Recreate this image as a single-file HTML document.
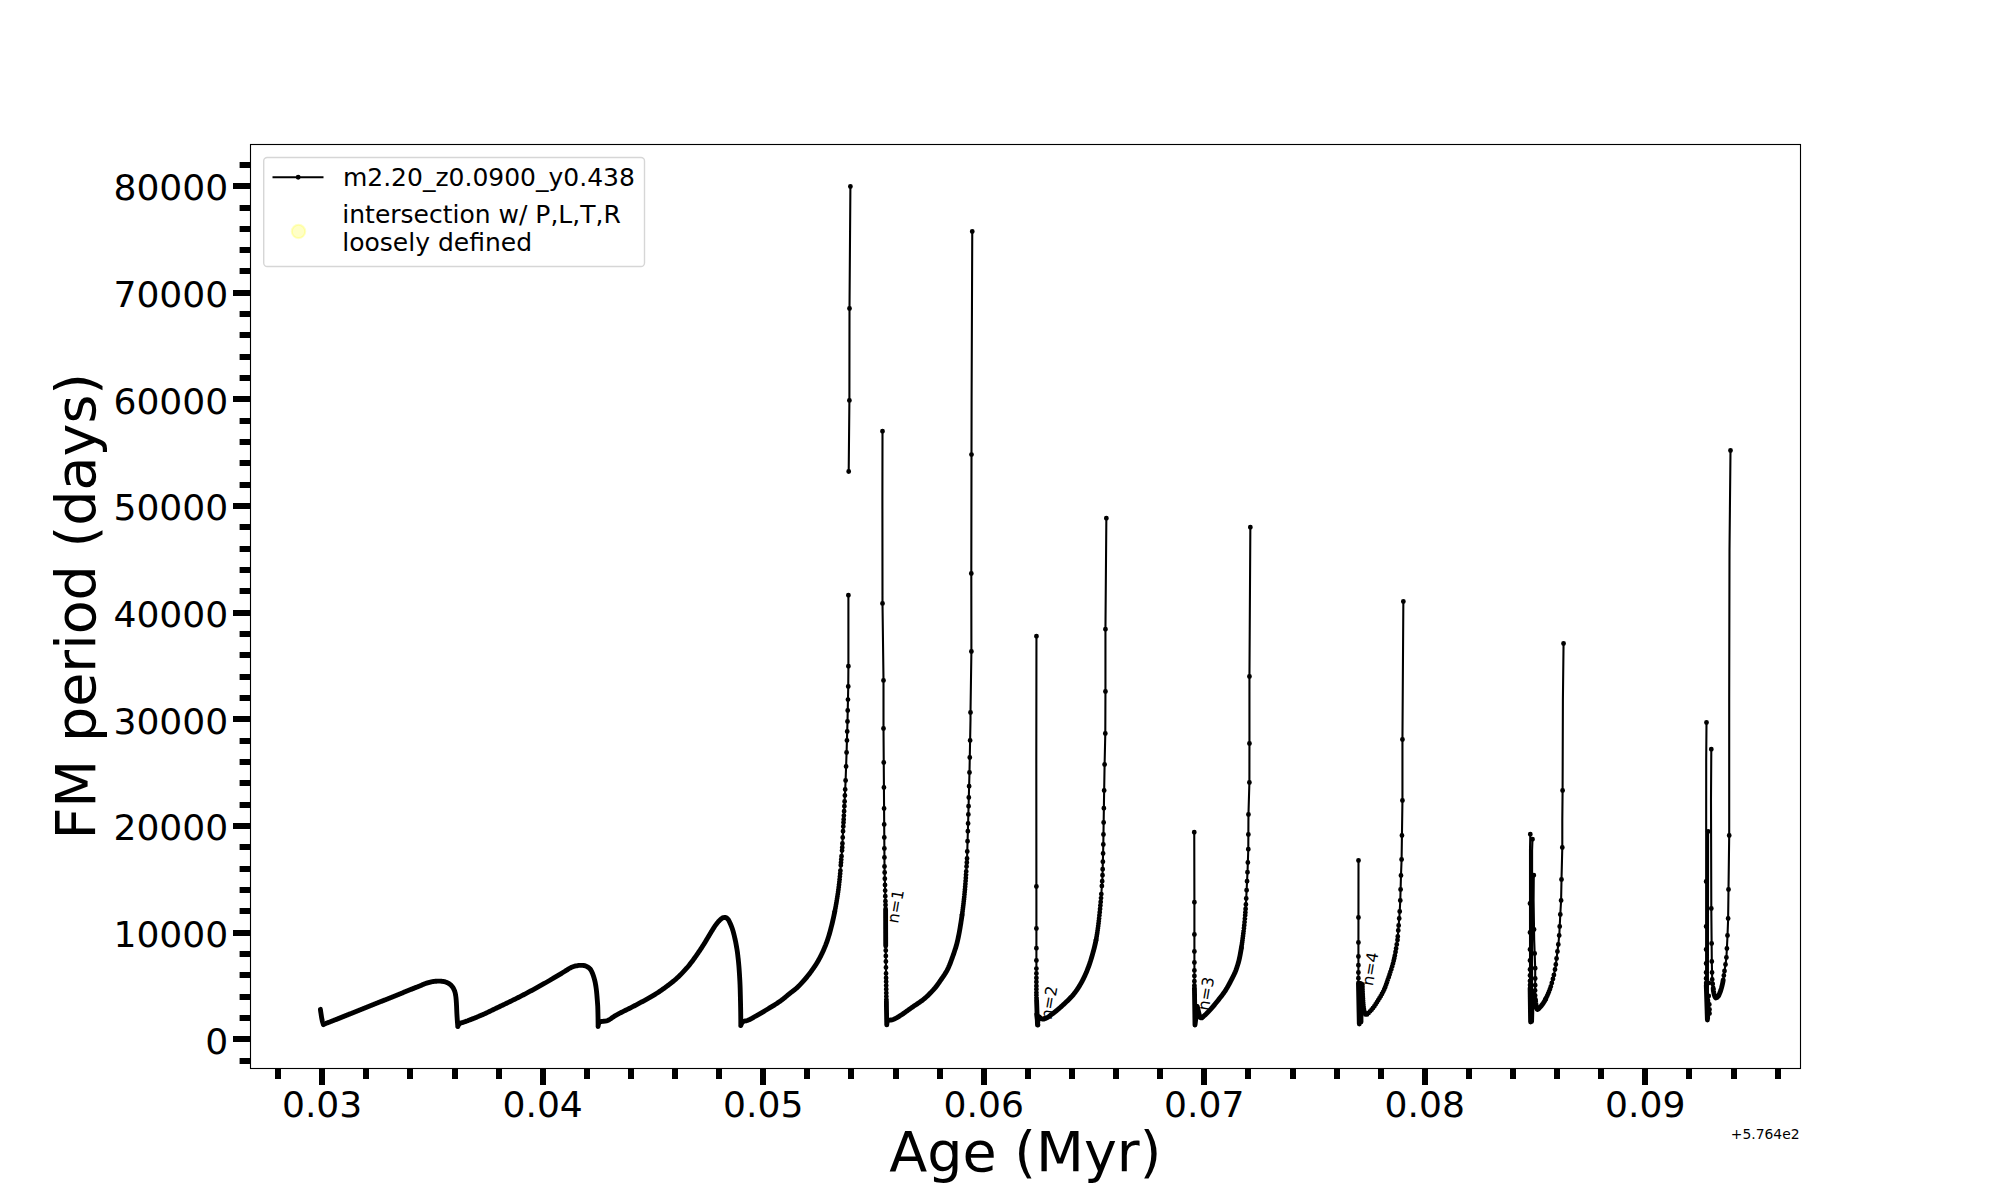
<!DOCTYPE html>
<html lang="en"><head><meta charset="utf-8"><title>FM period vs Age</title>
<style>html,body{margin:0;padding:0;background:#fff}svg{display:block}</style></head>
<body>
<svg width="2000" height="1200" viewBox="0 0 2000 1200">
<rect width="2000" height="1200" fill="#fff"/>
<text transform="translate(898.1 924) rotate(-80)" font-family="'DejaVu Sans','Liberation Sans',sans-serif" font-size="16" fill="#000">n=1</text>
<text transform="translate(1051.6 1020.2) rotate(-80)" font-family="'DejaVu Sans','Liberation Sans',sans-serif" font-size="16" fill="#000">n=2</text>
<text transform="translate(1208.4 1011.2) rotate(-80)" font-family="'DejaVu Sans','Liberation Sans',sans-serif" font-size="16" fill="#000">n=3</text>
<text transform="translate(1372.7 986.4) rotate(-80)" font-family="'DejaVu Sans','Liberation Sans',sans-serif" font-size="16" fill="#000">n=4</text>
<g fill="none" stroke="#000" stroke-linejoin="round">
<path stroke-width="2.08" stroke-linecap="butt" d="M320.4 1009.3 L320.53 1010.33 L320.67 1011.36 L320.82 1012.4 L320.98 1013.43 L321.13 1014.45 L321.3 1015.48 L321.46 1016.51 L321.63 1017.54 L321.81 1018.57 L322.01 1019.59 L322.22 1020.6 L322.47 1021.61 L322.76 1022.61 L323.07 1023.61 L323.4 1024.6 L323.4 1024.6 L324.3 1024.16 L325.21 1023.74 L326.13 1023.35 L327.06 1022.98 L328 1022.63 L328.95 1022.29 L329.89 1021.94 L330.82 1021.58 L331.75 1021.22 L332.69 1020.85 L333.62 1020.49 L334.55 1020.11 L335.48 1019.74 L336.41 1019.37 L337.34 1018.99 L338.27 1018.62 L339.19 1018.24 L340.12 1017.87 L341.05 1017.49 L341.98 1017.12 L342.91 1016.74 L343.84 1016.37 L344.77 1015.99 L345.7 1015.62 L346.63 1015.25 L347.56 1014.88 L348.49 1014.5 L349.42 1014.13 L350.35 1013.76 L351.28 1013.39 L352.21 1013.02 L353.14 1012.64 L354.07 1012.27 L355 1011.9 L355.93 1011.53 L356.86 1011.16 L357.79 1010.78 L358.72 1010.41 L359.65 1010.04 L360.58 1009.67 L361.51 1009.3 L362.44 1008.92 L363.37 1008.55 L364.3 1008.18 L365.23 1007.81 L366.16 1007.44 L367.09 1007.06 L368.02 1006.69 L368.95 1006.32 L369.88 1005.95 L370.81 1005.58 L371.74 1005.2 L372.67 1004.83 L373.6 1004.46 L374.53 1004.09 L375.46 1003.72 L376.39 1003.35 L377.33 1002.98 L378.26 1002.6 L379.19 1002.23 L380.12 1001.86 L381.05 1001.49 L381.98 1001.12 L382.91 1000.75 L383.84 1000.38 L384.77 1000.01 L385.7 999.63 L386.63 999.26 L387.56 998.89 L388.49 998.52 L389.42 998.14 L390.35 997.77 L391.28 997.4 L392.21 997.02 L393.14 996.65 L394.07 996.28 L395 995.9 L395.93 995.53 L396.85 995.15 L397.78 994.77 L398.71 994.4 L399.64 994.02 L400.56 993.64 L401.49 993.26 L402.42 992.88 L403.35 992.5 L404.27 992.12 L405.2 991.75 L406.13 991.37 L407.06 990.99 L407.99 990.61 L408.92 990.24 L409.84 989.86 L410.77 989.49 L411.7 989.12 L412.63 988.74 L413.56 988.37 L414.49 988 L415.42 987.63 L416.35 987.26 L417.28 986.88 L418.21 986.51 L419.15 986.14 L420.08 985.77 L421 985.39 L421.93 984.99 L422.85 984.59 L423.78 984.2 L424.71 983.83 L425.64 983.48 L426.59 983.17 L427.54 982.88 L428.51 982.6 L429.48 982.32 L430.45 982.07 L431.43 981.84 L432.42 981.65 L433.4 981.51 L434.39 981.4 L435.39 981.29 L436.39 981.2 L437.4 981.14 L438.4 981.1 L439.4 981.11 L440.41 981.16 L441.42 981.25 L442.42 981.37 L443.4 981.51 L444.37 981.67 L445.34 981.92 L446.3 982.27 L447.25 982.68 L448.15 983.15 L449.01 983.65 L449.81 984.18 L450.59 984.82 L451.34 985.54 L452.02 986.31 L452.62 987.11 L453.14 987.92 L453.63 988.8 L454.08 989.71 L454.48 990.66 L454.82 991.62 L455.09 992.57 L455.31 993.54 L455.51 994.52 L455.68 995.51 L455.82 996.51 L455.95 997.51 L456.05 998.5 L456.14 999.5 L456.22 1000.5 L456.29 1001.5 L456.36 1002.5 L456.42 1003.5 L456.47 1004.5 L456.53 1005.5 L456.58 1006.5 L456.62 1007.5 L456.66 1008.5 L456.7 1009.51 L456.74 1010.51 L456.78 1011.51 L456.83 1012.51 L456.87 1013.51 L456.93 1014.51 L456.99 1015.51 L457.05 1016.51 L457.11 1017.51 L457.18 1018.51 L457.24 1019.51 L457.32 1020.51 L457.39 1021.51 L457.47 1022.51 L457.55 1023.5 L457.63 1024.5 L457.71 1025.5 L457.8 1026.5 L457.8 1026.5 L458.24 1025.46 L458.8 1024.56 L459.44 1023.83 L460.16 1023.31 L461.04 1022.96 L462.05 1022.68 L463.05 1022.38 L463.99 1022.05 L464.93 1021.71 L465.87 1021.37 L466.82 1021.02 L467.76 1020.68 L468.69 1020.32 L469.63 1019.97 L470.57 1019.61 L471.5 1019.25 L472.44 1018.89 L473.37 1018.52 L474.3 1018.15 L475.23 1017.77 L476.16 1017.4 L477.09 1017.02 L478.01 1016.63 L478.94 1016.25 L479.86 1015.86 L480.78 1015.47 L481.7 1015.07 L482.61 1014.67 L483.53 1014.26 L484.44 1013.84 L485.35 1013.43 L486.26 1013.01 L487.17 1012.58 L488.07 1012.16 L488.98 1011.73 L489.88 1011.3 L490.79 1010.86 L491.69 1010.43 L492.59 1009.99 L493.49 1009.55 L494.4 1009.11 L495.3 1008.68 L496.2 1008.24 L497.1 1007.8 L498 1007.36 L498.91 1006.93 L499.81 1006.49 L500.71 1006.06 L501.62 1005.62 L502.52 1005.19 L503.42 1004.76 L504.32 1004.32 L505.23 1003.89 L506.13 1003.45 L507.03 1003.02 L507.94 1002.58 L508.84 1002.14 L509.74 1001.71 L510.64 1001.27 L511.54 1000.83 L512.44 1000.39 L513.34 999.94 L514.24 999.5 L515.13 999.05 L516.03 998.61 L516.92 998.16 L517.82 997.71 L518.71 997.26 L519.61 996.8 L520.5 996.35 L521.39 995.89 L522.28 995.43 L523.17 994.97 L524.05 994.5 L524.94 994.04 L525.83 993.57 L526.72 993.11 L527.6 992.64 L528.49 992.17 L529.37 991.69 L530.25 991.22 L531.14 990.75 L532.02 990.27 L532.9 989.79 L533.78 989.32 L534.66 988.84 L535.54 988.36 L536.42 987.87 L537.3 987.39 L538.17 986.91 L539.05 986.43 L539.93 985.94 L540.8 985.45 L541.68 984.96 L542.55 984.47 L543.42 983.98 L544.29 983.49 L545.16 982.99 L546.03 982.49 L546.9 981.99 L547.77 981.49 L548.64 980.99 L549.5 980.49 L550.37 979.98 L551.24 979.48 L552.1 978.98 L552.97 978.47 L553.83 977.97 L554.7 977.46 L555.56 976.95 L556.42 976.44 L557.28 975.93 L558.14 975.42 L559 974.9 L559.86 974.38 L560.72 973.86 L561.57 973.34 L562.42 972.81 L563.27 972.28 L564.12 971.75 L564.97 971.22 L565.83 970.7 L566.69 970.18 L567.54 969.63 L568.39 969.08 L569.24 968.53 L570.1 968.02 L570.98 967.55 L571.88 967.15 L572.81 966.8 L573.76 966.48 L574.73 966.2 L575.71 965.96 L576.69 965.76 L577.67 965.56 L578.67 965.4 L579.66 965.31 L580.66 965.31 L581.67 965.34 L582.68 965.39 L583.67 965.47 L584.65 965.61 L585.61 965.94 L586.53 966.37 L587.42 966.82 L588.3 967.35 L589.14 967.96 L589.85 968.64 L590.44 969.36 L590.97 970.18 L591.46 971.06 L591.9 971.99 L592.32 972.94 L592.7 973.91 L593.05 974.85 L593.38 975.79 L593.69 976.74 L593.99 977.69 L594.27 978.66 L594.53 979.63 L594.78 980.61 L595.01 981.59 L595.21 982.57 L595.41 983.55 L595.58 984.53 L595.75 985.52 L595.91 986.51 L596.06 987.51 L596.2 988.5 L596.32 989.49 L596.44 990.49 L596.55 991.48 L596.65 992.48 L596.75 993.48 L596.84 994.48 L596.92 995.47 L597.01 996.47 L597.08 997.47 L597.16 998.47 L597.24 999.47 L597.32 1000.47 L597.4 1001.47 L597.48 1002.47 L597.55 1003.47 L597.62 1004.47 L597.69 1005.47 L597.74 1006.47 L597.78 1007.47 L597.81 1008.47 L597.84 1009.47 L597.87 1010.47 L597.89 1011.47 L597.92 1012.47 L597.94 1013.47 L597.96 1014.47 L597.98 1015.48 L598 1016.48 L598.02 1017.48 L598.04 1018.48 L598.05 1019.48 L598.06 1020.48 L598.07 1021.49 L598.08 1022.49 L598.09 1023.49 L598.1 1024.49 L598.1 1025.5 L598.1 1026.5 L598.1 1026.5 L598.27 1025.23 L598.57 1024.05 L598.97 1023.04 L599.44 1022.27 L599.96 1021.82 L600.63 1021.61 L601.54 1021.48 L602.6 1021.38 L603.74 1021.29 L604.86 1021.18 L605.89 1021.02 L606.81 1020.78 L607.71 1020.45 L608.59 1020.04 L609.46 1019.55 L610.32 1019.02 L611.17 1018.45 L612.01 1017.85 L612.85 1017.25 L613.7 1016.65 L614.55 1016.08 L615.41 1015.54 L616.29 1015.04 L617.17 1014.57 L618.05 1014.1 L618.93 1013.63 L619.82 1013.17 L620.71 1012.72 L621.6 1012.26 L622.5 1011.81 L623.39 1011.36 L624.29 1010.92 L625.18 1010.47 L626.08 1010.03 L626.98 1009.58 L627.88 1009.14 L628.77 1008.7 L629.67 1008.25 L630.56 1007.8 L631.46 1007.35 L632.35 1006.9 L633.24 1006.44 L634.13 1005.98 L635.02 1005.52 L635.9 1005.05 L636.78 1004.58 L637.67 1004.11 L638.55 1003.64 L639.43 1003.17 L640.32 1002.7 L641.2 1002.23 L642.09 1001.75 L642.97 1001.28 L643.85 1000.8 L644.73 1000.33 L645.61 999.85 L646.49 999.36 L647.37 998.88 L648.24 998.39 L649.11 997.9 L649.98 997.4 L650.85 996.9 L651.71 996.4 L652.57 995.89 L653.43 995.38 L654.28 994.86 L655.13 994.34 L655.98 993.81 L656.82 993.28 L657.66 992.74 L658.49 992.19 L659.33 991.63 L660.15 991.07 L660.98 990.5 L661.8 989.92 L662.62 989.35 L663.43 988.76 L664.25 988.18 L665.05 987.59 L665.86 986.99 L666.67 986.4 L667.47 985.8 L668.27 985.2 L669.07 984.6 L669.87 983.99 L670.66 983.38 L671.46 982.77 L672.24 982.15 L673.03 981.52 L673.8 980.89 L674.57 980.25 L675.33 979.6 L676.07 978.94 L676.81 978.27 L677.54 977.59 L678.27 976.91 L678.99 976.21 L679.71 975.52 L680.42 974.81 L681.13 974.1 L681.84 973.38 L682.53 972.66 L683.23 971.93 L683.91 971.2 L684.59 970.46 L685.27 969.72 L685.94 968.98 L686.6 968.23 L687.25 967.47 L687.9 966.72 L688.54 965.95 L689.17 965.18 L689.8 964.41 L690.42 963.62 L691.03 962.83 L691.63 962.03 L692.23 961.22 L692.83 960.42 L693.42 959.61 L694.01 958.79 L694.59 957.98 L695.17 957.16 L695.75 956.35 L696.33 955.53 L696.91 954.71 L697.48 953.89 L698.04 953.07 L698.61 952.24 L699.17 951.41 L699.73 950.58 L700.28 949.75 L700.83 948.92 L701.38 948.08 L701.93 947.24 L702.47 946.4 L703.01 945.56 L703.55 944.71 L704.08 943.87 L704.61 943.02 L705.13 942.16 L705.65 941.31 L706.16 940.45 L706.67 939.59 L707.18 938.72 L707.68 937.86 L708.19 937 L708.7 936.14 L709.22 935.28 L709.74 934.43 L710.26 933.57 L710.78 932.72 L711.3 931.86 L711.82 931 L712.34 930.14 L712.86 929.28 L713.39 928.43 L713.93 927.58 L714.48 926.75 L715.04 925.93 L715.62 925.12 L716.21 924.32 L716.82 923.52 L717.45 922.73 L718.1 921.96 L718.77 921.21 L719.47 920.5 L720.19 919.83 L720.95 919.12 L721.75 918.45 L722.6 917.92 L723.5 917.63 L724.51 917.45 L725.48 917.43 L726.42 917.83 L727.26 918.49 L727.93 919.15 L728.49 919.94 L728.98 920.83 L729.44 921.78 L729.87 922.72 L730.29 923.62 L730.7 924.53 L731.09 925.46 L731.46 926.39 L731.82 927.33 L732.16 928.27 L732.48 929.22 L732.79 930.17 L733.08 931.12 L733.35 932.08 L733.61 933.05 L733.86 934.02 L734.1 934.99 L734.33 935.97 L734.56 936.94 L734.78 937.92 L735 938.9 L735.21 939.87 L735.42 940.85 L735.62 941.83 L735.81 942.82 L736 943.8 L736.18 944.78 L736.36 945.77 L736.53 946.75 L736.7 947.74 L736.86 948.73 L737.02 949.71 L737.18 950.7 L737.33 951.69 L737.47 952.68 L737.6 953.68 L737.72 954.67 L737.84 955.66 L737.95 956.65 L738.06 957.65 L738.17 958.64 L738.28 959.64 L738.38 960.63 L738.48 961.63 L738.58 962.63 L738.67 963.62 L738.76 964.62 L738.85 965.62 L738.93 966.61 L739.01 967.61 L739.09 968.61 L739.16 969.61 L739.23 970.6 L739.3 971.6 L739.36 972.6 L739.43 973.6 L739.49 974.6 L739.55 975.6 L739.61 976.59 L739.67 977.59 L739.73 978.59 L739.78 979.59 L739.84 980.59 L739.89 981.59 L739.94 982.59 L739.98 983.59 L740.03 984.59 L740.07 985.59 L740.1 986.59 L740.14 987.59 L740.17 988.59 L740.2 989.59 L740.23 990.59 L740.25 991.59 L740.28 992.59 L740.3 993.59 L740.33 994.59 L740.35 995.59 L740.38 996.59 L740.4 997.59 L740.43 998.59 L740.45 999.59 L740.47 1000.59 L740.5 1001.59 L740.52 1002.59 L740.54 1003.59 L740.56 1004.59 L740.58 1005.59 L740.6 1006.59 L740.62 1007.59 L740.64 1008.59 L740.65 1009.59 L740.67 1010.59 L740.69 1011.59 L740.7 1012.59 L740.71 1013.59 L740.73 1014.59 L740.74 1015.59 L740.75 1016.59 L740.76 1017.59 L740.77 1018.59 L740.78 1019.59 L740.78 1020.6 L740.79 1021.6 L740.79 1022.6 L740.8 1023.6 L740.8 1024.6 L740.8 1025.6 L740.8 1025.6 L741.14 1024.46 L741.59 1023.44 L742.14 1022.58 L742.76 1021.91 L743.45 1021.48 L744.34 1021.2 L745.37 1020.99 L746.42 1020.77 L747.38 1020.47 L748.3 1020.11 L749.2 1019.7 L750.1 1019.26 L750.98 1018.79 L751.86 1018.3 L752.74 1017.79 L753.61 1017.28 L754.48 1016.77 L755.35 1016.26 L756.23 1015.78 L757.1 1015.29 L757.97 1014.8 L758.84 1014.31 L759.71 1013.81 L760.58 1013.31 L761.44 1012.81 L762.31 1012.31 L763.17 1011.8 L764.03 1011.29 L764.89 1010.78 L765.75 1010.26 L766.61 1009.74 L767.46 1009.23 L768.32 1008.71 L769.17 1008.19 L770.03 1007.67 L770.89 1007.15 L771.74 1006.63 L772.6 1006.11 L773.45 1005.59 L774.31 1005.06 L775.16 1004.53 L776 1003.99 L776.84 1003.45 L777.67 1002.9 L778.5 1002.34 L779.32 1001.78 L780.14 1001.2 L780.94 1000.61 L781.74 1000.02 L782.53 999.4 L783.31 998.78 L784.09 998.16 L784.87 997.52 L785.64 996.89 L786.41 996.25 L787.19 995.6 L787.96 994.97 L788.73 994.33 L789.51 993.7 L790.29 993.07 L791.08 992.45 L791.88 991.84 L792.68 991.23 L793.47 990.62 L794.27 990.01 L795.05 989.39 L795.82 988.75 L796.57 988.1 L797.29 987.43 L798.01 986.74 L798.73 986.05 L799.43 985.34 L800.13 984.63 L800.83 983.91 L801.52 983.18 L802.2 982.44 L802.88 981.7 L803.55 980.95 L804.21 980.19 L804.87 979.42 L805.52 978.66 L806.16 977.88 L806.8 977.1 L807.43 976.32 L808.05 975.54 L808.66 974.75 L809.27 973.96 L809.87 973.17 L810.47 972.37 L811.06 971.57 L811.65 970.77 L812.24 969.95 L812.82 969.13 L813.39 968.31 L813.96 967.48 L814.53 966.65 L815.08 965.81 L815.63 964.97 L816.17 964.12 L816.71 963.27 L817.23 962.41 L817.75 961.55 L818.25 960.69 L818.75 959.82 L819.23 958.95 L819.7 958.07 L820.16 957.19 L820.61 956.31 L821.06 955.42 L821.5 954.53 L821.93 953.63 L822.36 952.72 L822.78 951.81 L823.2 950.9 L823.61 949.98 L824.01 949.06 L824.41 948.13 L824.79 947.2 L825.17 946.27 L825.55 945.34 L825.91 944.4 L826.26 943.46 L826.61 942.53 L826.95 941.59 L827.28 940.65 L827.6 939.7 L827.91 938.76 L828.22 937.81 L828.52 936.86 L828.81 935.91 L829.1 934.95 L829.39 933.99 L829.66 933.03 L829.93 932.06 L830.2 931.09 L830.46 930.13 L830.72 929.16 L830.97 928.19 L831.22 927.21 L831.47 926.24 L831.71 925.27 L831.95 924.3 L832.18 923.32 L832.42 922.35 L832.65 921.38 L832.87 920.41 L833.1 919.43 L833.32 918.46 L833.53 917.48 L833.75 916.5 L833.96 915.52 L834.16 914.54 L834.37 913.56 L834.57 912.58 L834.77 911.6 L834.96 910.62 L835.15 909.64 L835.34 908.65 L835.52 907.67 L835.7 906.69 L835.88 905.7 L836.05 904.72 L836.22 903.73 L836.39 902.75 L836.56 901.76 L836.72 900.77 L836.89 899.79 L837.05 898.8 L837.21 897.81 L837.37 896.82 L837.52 895.83 L837.67 894.84 L837.82 893.85 L837.97 892.86 L838.11 891.87 L838.25 890.88 L838.39 889.89 L838.52 888.9 L838.65 887.91 L838.77 886.92 L838.89 885.92 L839.01 884.93 L839.12 883.94 L839.23 882.94 L839.34 881.95 L839.45 880.96 L839.55 879.96 L839.66 878.97 L839.76 877.97 L839.85 876.98 L839.95 875.98 L840.04 874.98 L840.13 873.99 L840.22 872.99 L840.3 871.99 L840.38 871 L840.46 870 L840.53 869 L840.6 868 L841.2 860 L842.1 850 L843.1 830 L844.4 806 L845.6 780.5 L846.6 752 L847.5 721 L848.25 686.5 L848.4 666 L848.4 595.25 M848.7 471.5 L849.4 400.4 L849.5 308.5 L850.4 186.5 M882.5 431.25 L882.4 500 L882.5 603.4 L883.5 680.4 L883.5 728.5 L884.5 866.5 L885.6 907.5 L885.7 946 L886.5 1010 L886.75 1024.9 L887.2 1021.3 L888.05 1020.72 L888.95 1020.32 L889.91 1020.12 L890.91 1019.98 L891.91 1019.82 L892.86 1019.56 L893.8 1019.21 L894.73 1018.8 L895.64 1018.37 L896.53 1017.93 L897.4 1017.44 L898.26 1016.92 L899.1 1016.38 L899.95 1015.83 L900.78 1015.29 L901.62 1014.74 L902.45 1014.18 L903.27 1013.62 L904.09 1013.05 L904.91 1012.47 L905.73 1011.89 L906.54 1011.31 L907.35 1010.72 L908.17 1010.14 L908.98 1009.55 L909.79 1008.97 L910.61 1008.38 L911.42 1007.81 L912.24 1007.23 L913.07 1006.66 L913.9 1006.1 L914.73 1005.54 L915.57 1004.98 L916.4 1004.43 L917.24 1003.87 L918.07 1003.31 L918.9 1002.75 L919.73 1002.18 L920.55 1001.61 L921.36 1001.03 L922.16 1000.44 L922.96 999.83 L923.74 999.21 L924.5 998.58 L925.26 997.93 L926.01 997.27 L926.74 996.59 L927.47 995.9 L928.19 995.2 L928.91 994.5 L929.62 993.79 L930.32 993.08 L931.02 992.36 L931.71 991.64 L932.4 990.91 L933.09 990.18 L933.76 989.43 L934.42 988.68 L935.08 987.92 L935.71 987.16 L936.33 986.38 L936.94 985.58 L937.53 984.78 L938.11 983.96 L938.68 983.14 L939.25 982.31 L939.81 981.48 L940.37 980.65 L940.94 979.83 L941.52 979 L942.09 978.18 L942.66 977.35 L943.23 976.52 L943.8 975.68 L944.36 974.85 L944.9 974.01 L945.44 973.16 L945.95 972.31 L946.46 971.44 L946.94 970.58 L947.4 969.7 L947.84 968.81 L948.26 967.92 L948.68 967.01 L949.08 966.09 L949.47 965.17 L949.84 964.24 L950.22 963.3 L950.58 962.36 L950.93 961.42 L951.28 960.48 L951.62 959.54 L951.96 958.6 L952.3 957.66 L952.64 956.72 L952.98 955.77 L953.31 954.83 L953.64 953.88 L953.97 952.93 L954.29 951.98 L954.61 951.03 L954.93 950.08 L955.24 949.12 L955.54 948.17 L955.83 947.21 L956.12 946.25 L956.4 945.29 L956.66 944.32 L956.92 943.36 L957.17 942.39 L957.4 941.42 L957.62 940.45 L957.84 939.48 L958.06 938.51 L958.26 937.53 L958.47 936.56 L958.67 935.58 L958.86 934.6 L959.05 933.62 L959.24 932.63 L959.42 931.65 L959.6 930.66 L959.78 929.67 L959.95 928.69 L960.12 927.7 L960.28 926.71 L960.44 925.72 L960.6 924.73 L960.76 923.74 L960.91 922.74 L961.06 921.75 L961.21 920.76 L961.36 919.77 L961.5 918.78 L961.65 917.79 L961.79 916.8 L961.93 915.81 L962.06 914.82 L962.2 913.83 L962.33 912.84 L962.47 911.85 L962.6 910.85 L962.73 909.86 L962.86 908.87 L962.98 907.88 L963.11 906.88 L963.23 905.89 L963.35 904.89 L963.47 903.9 L963.58 902.91 L963.7 901.91 L963.81 900.92 L963.92 899.92 L964.03 898.93 L964.13 897.93 L964.23 896.93 L964.34 895.94 L964.43 894.94 L964.53 893.95 L964.62 892.95 L964.71 891.96 L964.8 890.96 L964.89 889.96 L964.98 888.97 L965.06 887.97 L965.14 886.97 L965.22 885.98 L965.31 884.98 L965.38 883.98 L965.46 882.98 L965.54 881.99 L965.61 880.99 L965.68 879.99 L965.75 878.99 L965.82 877.99 L965.89 877 L965.95 876 L966.02 875 L966.08 874 L966.14 873 L966.19 872 L966.25 871 L966.3 870 L967 860 L968.2 820 L969.5 772 L970.5 720 L970.5 712.5 L971.4 651.5 L971.3 573.5 L971.5 454.6 L971.6 400 L972.25 231.5 M1036.45 636.2 L1036.3 760 L1036.4 900 L1036.4 995 L1037 1012 L1037.5 1025 L1038.4 1016.2 L1039.13 1016.91 L1039.91 1017.54 L1040.74 1018.14 L1041.63 1018.74 L1042.54 1019.14 L1043.47 1019.16 L1044.44 1018.88 L1045.41 1018.47 L1046.32 1018.05 L1047.2 1017.6 L1048.05 1017.08 L1048.89 1016.52 L1049.72 1015.92 L1050.53 1015.31 L1051.34 1014.69 L1052.15 1014.09 L1052.95 1013.49 L1053.75 1012.88 L1054.55 1012.26 L1055.33 1011.64 L1056.12 1011.01 L1056.9 1010.37 L1057.67 1009.72 L1058.44 1009.07 L1059.21 1008.41 L1059.96 1007.75 L1060.72 1007.08 L1061.46 1006.41 L1062.21 1005.73 L1062.94 1005.05 L1063.68 1004.37 L1064.41 1003.68 L1065.15 1002.99 L1065.89 1002.3 L1066.62 1001.6 L1067.35 1000.9 L1068.08 1000.19 L1068.8 999.48 L1069.52 998.76 L1070.22 998.03 L1070.92 997.3 L1071.6 996.56 L1072.28 995.81 L1072.93 995.06 L1073.58 994.3 L1074.2 993.53 L1074.81 992.75 L1075.41 991.96 L1075.99 991.15 L1076.57 990.34 L1077.14 989.51 L1077.7 988.68 L1078.25 987.83 L1078.79 986.98 L1079.33 986.12 L1079.85 985.25 L1080.37 984.37 L1080.87 983.49 L1081.37 982.61 L1081.86 981.72 L1082.33 980.83 L1082.8 979.93 L1083.25 979.04 L1083.69 978.14 L1084.12 977.24 L1084.55 976.34 L1084.97 975.43 L1085.38 974.52 L1085.78 973.6 L1086.18 972.67 L1086.58 971.75 L1086.96 970.81 L1087.34 969.88 L1087.71 968.94 L1088.08 967.99 L1088.44 967.05 L1088.79 966.1 L1089.13 965.15 L1089.47 964.2 L1089.79 963.25 L1090.11 962.29 L1090.43 961.34 L1090.73 960.38 L1091.02 959.42 L1091.31 958.47 L1091.6 957.51 L1091.88 956.55 L1092.17 955.58 L1092.44 954.61 L1092.72 953.65 L1092.99 952.68 L1093.25 951.7 L1093.52 950.73 L1093.77 949.75 L1094.03 948.78 L1094.27 947.8 L1094.52 946.82 L1094.75 945.84 L1094.98 944.85 L1095.21 943.87 L1095.43 942.89 L1095.64 941.9 L1095.84 940.92 L1096.04 939.93 L1096.23 938.94 L1096.41 937.96 L1096.59 936.97 L1096.75 935.98 L1096.91 935 L1097.07 934.01 L1097.22 933.02 L1097.37 932.03 L1097.52 931.03 L1097.66 930.04 L1097.8 929.04 L1097.93 928.05 L1098.06 927.05 L1098.19 926.06 L1098.32 925.06 L1098.44 924.06 L1098.57 923.06 L1098.68 922.06 L1098.8 921.06 L1098.91 920.06 L1099.03 919.06 L1099.14 918.05 L1099.24 917.05 L1099.35 916.05 L1099.46 915.05 L1099.56 914.05 L1099.66 913.05 L1099.76 912.04 L1099.86 911.04 L1099.96 910.04 L1100.05 909.04 L1100.15 908.04 L1100.24 907.04 L1100.34 906.04 L1100.43 905.04 L1100.52 904.04 L1100.61 903.03 L1100.69 902.03 L1100.78 901.03 L1100.86 900.03 L1100.94 899.03 L1101.02 898.02 L1101.1 897.02 L1101.18 896.02 L1101.25 895.02 L1101.33 894.01 L1101.4 893.01 L1101.47 892.01 L1101.53 891 L1101.6 890 L1102.45 877.5 L1103.3 845 L1104 800 L1104.6 764.5 L1105.3 733.45 L1105.45 691.45 L1105.45 629.3 L1106.35 518.3 M1194.25 832.3 L1194.4 900 L1194.4 985 L1195 1025 L1197.3 1006.5 L1199.2 1014.5 L1199.33 1015.68 L1199.67 1016.63 L1200.13 1017.34 L1201.02 1017.89 L1201.91 1017.89 L1202.69 1017.24 L1203.45 1016.44 L1204.2 1015.78 L1204.94 1015.11 L1205.67 1014.42 L1206.39 1013.73 L1207.1 1013.02 L1207.81 1012.31 L1208.5 1011.59 L1209.19 1010.86 L1209.87 1010.14 L1210.55 1009.4 L1211.22 1008.66 L1211.88 1007.91 L1212.53 1007.15 L1213.17 1006.38 L1213.82 1005.61 L1214.45 1004.84 L1215.09 1004.06 L1215.71 1003.28 L1216.34 1002.5 L1216.96 1001.72 L1217.59 1000.94 L1218.21 1000.16 L1218.84 999.38 L1219.47 998.59 L1220.09 997.81 L1220.71 997.02 L1221.33 996.23 L1221.94 995.43 L1222.54 994.63 L1223.14 993.83 L1223.72 993.02 L1224.3 992.2 L1224.86 991.38 L1225.4 990.55 L1225.93 989.7 L1226.45 988.85 L1226.97 988 L1227.47 987.13 L1227.97 986.26 L1228.46 985.39 L1228.94 984.51 L1229.41 983.62 L1229.88 982.74 L1230.35 981.85 L1230.81 980.96 L1231.26 980.07 L1231.72 979.18 L1232.18 978.29 L1232.64 977.4 L1233.09 976.5 L1233.54 975.6 L1233.98 974.7 L1234.41 973.79 L1234.83 972.88 L1235.23 971.97 L1235.6 971.04 L1235.96 970.12 L1236.29 969.18 L1236.62 968.24 L1236.94 967.29 L1237.26 966.34 L1237.56 965.38 L1237.85 964.42 L1238.13 963.46 L1238.4 962.49 L1238.66 961.52 L1238.91 960.55 L1239.15 959.58 L1239.37 958.6 L1239.58 957.63 L1239.78 956.66 L1239.98 955.68 L1240.17 954.7 L1240.35 953.72 L1240.53 952.74 L1240.71 951.75 L1240.88 950.77 L1241.04 949.78 L1241.2 948.79 L1241.36 947.8 L1241.51 946.81 L1241.66 945.82 L1241.81 944.83 L1241.95 943.83 L1242.1 942.84 L1242.23 941.85 L1242.37 940.86 L1242.5 939.86 L1242.63 938.87 L1242.76 937.88 L1242.89 936.88 L1243.01 935.89 L1243.14 934.9 L1243.26 933.91 L1243.38 932.92 L1243.5 931.92 L1243.62 930.93 L1243.73 929.94 L1243.85 928.94 L1243.96 927.95 L1244.07 926.96 L1244.18 925.96 L1244.28 924.97 L1244.38 923.97 L1244.49 922.98 L1244.58 921.98 L1244.68 920.98 L1244.77 919.99 L1244.86 918.99 L1244.95 917.99 L1245.04 917 L1245.12 916 L1245.2 915 L1246 903 L1247.6 870 L1248.3 849 L1248.45 814.45 L1249.4 782.5 L1249.45 743.5 L1249.45 676.45 L1250.35 527.3 M1358.5 860.55 L1358.4 980 L1359.3 1024 M1360.6 983.5 L1361 1022 M1362.4 984.5 L1362.41 985.51 L1362.42 986.52 L1362.44 987.52 L1362.46 988.53 L1362.49 989.54 L1362.52 990.54 L1362.56 991.55 L1362.6 992.55 L1362.65 993.56 L1362.7 994.56 L1362.75 995.57 L1362.81 996.57 L1362.86 997.58 L1362.92 998.58 L1362.98 999.59 L1363.03 1000.59 L1363.1 1001.6 L1363.17 1002.61 L1363.24 1003.63 L1363.33 1004.64 L1363.42 1005.65 L1363.53 1006.65 L1363.65 1007.65 L1363.78 1008.64 L1363.93 1009.61 L1364.12 1010.63 L1364.39 1011.83 L1364.74 1013.06 L1365.16 1014.12 L1365.63 1014.82 L1366.13 1014.98 L1366.8 1014.63 L1367.6 1013.93 L1368.45 1013.08 L1369.26 1012.24 L1369.97 1011.52 L1370.66 1010.79 L1371.33 1010.04 L1371.99 1009.27 L1372.62 1008.48 L1373.24 1007.69 L1373.84 1006.89 L1374.43 1006.08 L1375 1005.25 L1375.57 1004.42 L1376.13 1003.58 L1376.68 1002.73 L1377.22 1001.88 L1377.76 1001.03 L1378.29 1000.17 L1378.81 999.31 L1379.33 998.45 L1379.86 997.59 L1380.38 996.72 L1380.89 995.86 L1381.4 994.98 L1381.91 994.11 L1382.39 993.22 L1382.87 992.33 L1383.32 991.44 L1383.75 990.54 L1384.17 989.63 L1384.56 988.71 L1384.94 987.78 L1385.31 986.85 L1385.66 985.91 L1386.01 984.96 L1386.35 984.01 L1386.68 983.06 L1387.01 982.1 L1387.33 981.14 L1387.66 980.19 L1387.98 979.23 L1388.3 978.28 L1388.63 977.33 L1388.96 976.37 L1389.28 975.42 L1389.61 974.47 L1389.93 973.51 L1390.25 972.56 L1390.56 971.6 L1390.87 970.64 L1391.18 969.69 L1391.48 968.73 L1391.78 967.76 L1392.07 966.8 L1392.35 965.84 L1392.62 964.87 L1392.89 963.9 L1393.15 962.93 L1393.41 961.95 L1393.66 960.98 L1393.9 960 L1395.2 954 L1397.5 940 L1398.7 925 L1399.7 912 L1400.3 900 L1401 875 L1401.6 859.5 L1402.45 800.55 L1402.45 739.45 L1403.35 601.45 M1530.3 834.3 L1530 850 L1530 980 L1530.6 1022 M1532.5 839.3 L1532.1 850 L1532.1 1000 L1531.6 1021.5 M1533.8 875.3 L1533.6 900 L1534.2 940 L1535.2 968 L1535.2 985 L1535 994 L1535.6 1001 L1535.63 1002.02 L1535.72 1003.03 L1535.85 1004.02 L1536.02 1005 L1536.2 1005.98 L1536.43 1007.11 L1536.75 1008.33 L1537.15 1009.25 L1537.63 1009.48 L1538.33 1009.01 L1539.16 1008.19 L1539.95 1007.35 L1540.62 1006.62 L1541.27 1005.86 L1541.9 1005.07 L1542.5 1004.25 L1543.08 1003.43 L1543.63 1002.59 L1544.15 1001.75 L1544.66 1000.89 L1545.14 1000.01 L1545.6 999.13 L1546.06 998.23 L1546.49 997.32 L1546.92 996.41 L1547.34 995.49 L1547.75 994.57 L1548.15 993.66 L1548.54 992.74 L1548.92 991.81 L1549.29 990.88 L1549.65 989.94 L1550 989 L1551 986 L1553.5 977 L1555.5 967 L1557 955 L1558.5 943 L1559.4 933 L1559.7 926.5 L1560.3 914.5 L1561.1 900.5 L1561.5 879.5 L1562.3 847.5 L1562.3 820 L1562.6 790.5 L1562.9 700 L1563.55 643.45 M1706.5 722.5 L1706.2 760 L1706.1 980 L1707.4 1020 M1708.1 831 L1707.9 990 L1707.6 1019 M1711.3 749.3 L1711 800 L1711.3 908.5 L1711.8 961.5 L1712.2 979.5 L1713.2 988 L1713.23 989.06 L1713.32 990.09 L1713.46 991.11 L1713.64 992.1 L1713.85 993.08 L1714.08 994.04 L1714.35 995.04 L1714.73 996.22 L1715.22 997.3 L1715.78 997.94 L1716.48 997.84 L1717.41 997.19 L1718.14 996.43 L1718.67 995.61 L1719.12 994.68 L1719.52 993.7 L1719.9 992.75 L1720.25 991.81 L1720.59 990.85 L1720.91 989.89 L1721.21 988.91 L1721.5 987.93 L1721.76 986.95 L1722.01 985.97 L1722.24 984.99 L1722.46 984 L1722.67 983 L1722.86 982.01 L1723.04 981.01 L1723.2 980 L1724.5 971 L1725.5 964.5 L1726.4 957.5 L1726.9 948.5 L1727.5 935.5 L1728.1 920 L1728.5 889.5 L1729.2 835.5 L1729.2 700 L1729.5 550 L1730.5 450.5"/>
<path stroke-width="4.86" stroke-linecap="round" d="M320.4 1009.3 L320.53 1010.33 L320.67 1011.36 L320.82 1012.4 L320.98 1013.43 L321.13 1014.45 L321.3 1015.48 L321.46 1016.51 L321.63 1017.54 L321.81 1018.57 L322.01 1019.59 L322.22 1020.6 L322.47 1021.61 L322.76 1022.61 L323.07 1023.61 L323.4 1024.6 M323.4 1024.6 L324.3 1024.16 L325.21 1023.74 L326.13 1023.35 L327.06 1022.98 L328 1022.63 L328.95 1022.29 L329.89 1021.94 L330.82 1021.58 L331.75 1021.22 L332.69 1020.85 L333.62 1020.49 L334.55 1020.11 L335.48 1019.74 L336.41 1019.37 L337.34 1018.99 L338.27 1018.62 L339.19 1018.24 L340.12 1017.87 L341.05 1017.49 L341.98 1017.12 L342.91 1016.74 L343.84 1016.37 L344.77 1015.99 L345.7 1015.62 L346.63 1015.25 L347.56 1014.88 L348.49 1014.5 L349.42 1014.13 L350.35 1013.76 L351.28 1013.39 L352.21 1013.02 L353.14 1012.64 L354.07 1012.27 L355 1011.9 L355.93 1011.53 L356.86 1011.16 L357.79 1010.78 L358.72 1010.41 L359.65 1010.04 L360.58 1009.67 L361.51 1009.3 L362.44 1008.92 L363.37 1008.55 L364.3 1008.18 L365.23 1007.81 L366.16 1007.44 L367.09 1007.06 L368.02 1006.69 L368.95 1006.32 L369.88 1005.95 L370.81 1005.58 L371.74 1005.2 L372.67 1004.83 L373.6 1004.46 L374.53 1004.09 L375.46 1003.72 L376.39 1003.35 L377.33 1002.98 L378.26 1002.6 L379.19 1002.23 L380.12 1001.86 L381.05 1001.49 L381.98 1001.12 L382.91 1000.75 L383.84 1000.38 L384.77 1000.01 L385.7 999.63 L386.63 999.26 L387.56 998.89 L388.49 998.52 L389.42 998.14 L390.35 997.77 L391.28 997.4 L392.21 997.02 L393.14 996.65 L394.07 996.28 L395 995.9 L395.93 995.53 L396.85 995.15 L397.78 994.77 L398.71 994.4 L399.64 994.02 L400.56 993.64 L401.49 993.26 L402.42 992.88 L403.35 992.5 L404.27 992.12 L405.2 991.75 L406.13 991.37 L407.06 990.99 L407.99 990.61 L408.92 990.24 L409.84 989.86 L410.77 989.49 L411.7 989.12 L412.63 988.74 L413.56 988.37 L414.49 988 L415.42 987.63 L416.35 987.26 L417.28 986.88 L418.21 986.51 L419.15 986.14 L420.08 985.77 L421 985.39 L421.93 984.99 L422.85 984.59 L423.78 984.2 L424.71 983.83 L425.64 983.48 L426.59 983.17 L427.54 982.88 L428.51 982.6 L429.48 982.32 L430.45 982.07 L431.43 981.84 L432.42 981.65 L433.4 981.51 L434.39 981.4 L435.39 981.29 L436.39 981.2 L437.4 981.14 L438.4 981.1 L439.4 981.11 L440.41 981.16 L441.42 981.25 L442.42 981.37 L443.4 981.51 L444.37 981.67 L445.34 981.92 L446.3 982.27 L447.25 982.68 L448.15 983.15 L449.01 983.65 L449.81 984.18 L450.59 984.82 L451.34 985.54 L452.02 986.31 L452.62 987.11 L453.14 987.92 L453.63 988.8 L454.08 989.71 L454.48 990.66 L454.82 991.62 L455.09 992.57 L455.31 993.54 L455.51 994.52 L455.68 995.51 L455.82 996.51 L455.95 997.51 L456.05 998.5 L456.14 999.5 L456.22 1000.5 L456.29 1001.5 L456.36 1002.5 L456.42 1003.5 L456.47 1004.5 L456.53 1005.5 L456.58 1006.5 L456.62 1007.5 L456.66 1008.5 L456.7 1009.51 L456.74 1010.51 L456.78 1011.51 L456.83 1012.51 L456.87 1013.51 L456.93 1014.51 L456.99 1015.51 L457.05 1016.51 L457.11 1017.51 L457.18 1018.51 L457.24 1019.51 L457.32 1020.51 L457.39 1021.51 L457.47 1022.51 L457.55 1023.5 L457.63 1024.5 L457.71 1025.5 L457.8 1026.5 M457.8 1026.5 L458.24 1025.46 L458.8 1024.56 L459.44 1023.83 L460.16 1023.31 L461.04 1022.96 L462.05 1022.68 L463.05 1022.38 L463.99 1022.05 L464.93 1021.71 L465.87 1021.37 L466.82 1021.02 L467.76 1020.68 L468.69 1020.32 L469.63 1019.97 L470.57 1019.61 L471.5 1019.25 L472.44 1018.89 L473.37 1018.52 L474.3 1018.15 L475.23 1017.77 L476.16 1017.4 L477.09 1017.02 L478.01 1016.63 L478.94 1016.25 L479.86 1015.86 L480.78 1015.47 L481.7 1015.07 L482.61 1014.67 L483.53 1014.26 L484.44 1013.84 L485.35 1013.43 L486.26 1013.01 L487.17 1012.58 L488.07 1012.16 L488.98 1011.73 L489.88 1011.3 L490.79 1010.86 L491.69 1010.43 L492.59 1009.99 L493.49 1009.55 L494.4 1009.11 L495.3 1008.68 L496.2 1008.24 L497.1 1007.8 L498 1007.36 L498.91 1006.93 L499.81 1006.49 L500.71 1006.06 L501.62 1005.62 L502.52 1005.19 L503.42 1004.76 L504.32 1004.32 L505.23 1003.89 L506.13 1003.45 L507.03 1003.02 L507.94 1002.58 L508.84 1002.14 L509.74 1001.71 L510.64 1001.27 L511.54 1000.83 L512.44 1000.39 L513.34 999.94 L514.24 999.5 L515.13 999.05 L516.03 998.61 L516.92 998.16 L517.82 997.71 L518.71 997.26 L519.61 996.8 L520.5 996.35 L521.39 995.89 L522.28 995.43 L523.17 994.97 L524.05 994.5 L524.94 994.04 L525.83 993.57 L526.72 993.11 L527.6 992.64 L528.49 992.17 L529.37 991.69 L530.25 991.22 L531.14 990.75 L532.02 990.27 L532.9 989.79 L533.78 989.32 L534.66 988.84 L535.54 988.36 L536.42 987.87 L537.3 987.39 L538.17 986.91 L539.05 986.43 L539.93 985.94 L540.8 985.45 L541.68 984.96 L542.55 984.47 L543.42 983.98 L544.29 983.49 L545.16 982.99 L546.03 982.49 L546.9 981.99 L547.77 981.49 L548.64 980.99 L549.5 980.49 L550.37 979.98 L551.24 979.48 L552.1 978.98 L552.97 978.47 L553.83 977.97 L554.7 977.46 L555.56 976.95 L556.42 976.44 L557.28 975.93 L558.14 975.42 L559 974.9 L559.86 974.38 L560.72 973.86 L561.57 973.34 L562.42 972.81 L563.27 972.28 L564.12 971.75 L564.97 971.22 L565.83 970.7 L566.69 970.18 L567.54 969.63 L568.39 969.08 L569.24 968.53 L570.1 968.02 L570.98 967.55 L571.88 967.15 L572.81 966.8 L573.76 966.48 L574.73 966.2 L575.71 965.96 L576.69 965.76 L577.67 965.56 L578.67 965.4 L579.66 965.31 L580.66 965.31 L581.67 965.34 L582.68 965.39 L583.67 965.47 L584.65 965.61 L585.61 965.94 L586.53 966.37 L587.42 966.82 L588.3 967.35 L589.14 967.96 L589.85 968.64 L590.44 969.36 L590.97 970.18 L591.46 971.06 L591.9 971.99 L592.32 972.94 L592.7 973.91 L593.05 974.85 L593.38 975.79 L593.69 976.74 L593.99 977.69 L594.27 978.66 L594.53 979.63 L594.78 980.61 L595.01 981.59 L595.21 982.57 L595.41 983.55 L595.58 984.53 L595.75 985.52 L595.91 986.51 L596.06 987.51 L596.2 988.5 L596.32 989.49 L596.44 990.49 L596.55 991.48 L596.65 992.48 L596.75 993.48 L596.84 994.48 L596.92 995.47 L597.01 996.47 L597.08 997.47 L597.16 998.47 L597.24 999.47 L597.32 1000.47 L597.4 1001.47 L597.48 1002.47 L597.55 1003.47 L597.62 1004.47 L597.69 1005.47 L597.74 1006.47 L597.78 1007.47 L597.81 1008.47 L597.84 1009.47 L597.87 1010.47 L597.89 1011.47 L597.92 1012.47 L597.94 1013.47 L597.96 1014.47 L597.98 1015.48 L598 1016.48 L598.02 1017.48 L598.04 1018.48 L598.05 1019.48 L598.06 1020.48 L598.07 1021.49 L598.08 1022.49 L598.09 1023.49 L598.1 1024.49 L598.1 1025.5 L598.1 1026.5 M598.1 1026.5 L598.27 1025.23 L598.57 1024.05 L598.97 1023.04 L599.44 1022.27 L599.96 1021.82 L600.63 1021.61 L601.54 1021.48 L602.6 1021.38 L603.74 1021.29 L604.86 1021.18 L605.89 1021.02 L606.81 1020.78 L607.71 1020.45 L608.59 1020.04 L609.46 1019.55 L610.32 1019.02 L611.17 1018.45 L612.01 1017.85 L612.85 1017.25 L613.7 1016.65 L614.55 1016.08 L615.41 1015.54 L616.29 1015.04 L617.17 1014.57 L618.05 1014.1 L618.93 1013.63 L619.82 1013.17 L620.71 1012.72 L621.6 1012.26 L622.5 1011.81 L623.39 1011.36 L624.29 1010.92 L625.18 1010.47 L626.08 1010.03 L626.98 1009.58 L627.88 1009.14 L628.77 1008.7 L629.67 1008.25 L630.56 1007.8 L631.46 1007.35 L632.35 1006.9 L633.24 1006.44 L634.13 1005.98 L635.02 1005.52 L635.9 1005.05 L636.78 1004.58 L637.67 1004.11 L638.55 1003.64 L639.43 1003.17 L640.32 1002.7 L641.2 1002.23 L642.09 1001.75 L642.97 1001.28 L643.85 1000.8 L644.73 1000.33 L645.61 999.85 L646.49 999.36 L647.37 998.88 L648.24 998.39 L649.11 997.9 L649.98 997.4 L650.85 996.9 L651.71 996.4 L652.57 995.89 L653.43 995.38 L654.28 994.86 L655.13 994.34 L655.98 993.81 L656.82 993.28 L657.66 992.74 L658.49 992.19 L659.33 991.63 L660.15 991.07 L660.98 990.5 L661.8 989.92 L662.62 989.35 L663.43 988.76 L664.25 988.18 L665.05 987.59 L665.86 986.99 L666.67 986.4 L667.47 985.8 L668.27 985.2 L669.07 984.6 L669.87 983.99 L670.66 983.38 L671.46 982.77 L672.24 982.15 L673.03 981.52 L673.8 980.89 L674.57 980.25 L675.33 979.6 L676.07 978.94 L676.81 978.27 L677.54 977.59 L678.27 976.91 L678.99 976.21 L679.71 975.52 L680.42 974.81 L681.13 974.1 L681.84 973.38 L682.53 972.66 L683.23 971.93 L683.91 971.2 L684.59 970.46 L685.27 969.72 L685.94 968.98 L686.6 968.23 L687.25 967.47 L687.9 966.72 L688.54 965.95 L689.17 965.18 L689.8 964.41 L690.42 963.62 L691.03 962.83 L691.63 962.03 L692.23 961.22 L692.83 960.42 L693.42 959.61 L694.01 958.79 L694.59 957.98 L695.17 957.16 L695.75 956.35 L696.33 955.53 L696.91 954.71 L697.48 953.89 L698.04 953.07 L698.61 952.24 L699.17 951.41 L699.73 950.58 L700.28 949.75 L700.83 948.92 L701.38 948.08 L701.93 947.24 L702.47 946.4 L703.01 945.56 L703.55 944.71 L704.08 943.87 L704.61 943.02 L705.13 942.16 L705.65 941.31 L706.16 940.45 L706.67 939.59 L707.18 938.72 L707.68 937.86 L708.19 937 L708.7 936.14 L709.22 935.28 L709.74 934.43 L710.26 933.57 L710.78 932.72 L711.3 931.86 L711.82 931 L712.34 930.14 L712.86 929.28 L713.39 928.43 L713.93 927.58 L714.48 926.75 L715.04 925.93 L715.62 925.12 L716.21 924.32 L716.82 923.52 L717.45 922.73 L718.1 921.96 L718.77 921.21 L719.47 920.5 L720.19 919.83 L720.95 919.12 L721.75 918.45 L722.6 917.92 L723.5 917.63 L724.51 917.45 L725.48 917.43 L726.42 917.83 L727.26 918.49 L727.93 919.15 L728.49 919.94 L728.98 920.83 L729.44 921.78 L729.87 922.72 L730.29 923.62 L730.7 924.53 L731.09 925.46 L731.46 926.39 L731.82 927.33 L732.16 928.27 L732.48 929.22 L732.79 930.17 L733.08 931.12 L733.35 932.08 L733.61 933.05 L733.86 934.02 L734.1 934.99 L734.33 935.97 L734.56 936.94 L734.78 937.92 L735 938.9 L735.21 939.87 L735.42 940.85 L735.62 941.83 L735.81 942.82 L736 943.8 L736.18 944.78 L736.36 945.77 L736.53 946.75 L736.7 947.74 L736.86 948.73 L737.02 949.71 L737.18 950.7 L737.33 951.69 L737.47 952.68 L737.6 953.68 L737.72 954.67 L737.84 955.66 L737.95 956.65 L738.06 957.65 L738.17 958.64 L738.28 959.64 L738.38 960.63 L738.48 961.63 L738.58 962.63 L738.67 963.62 L738.76 964.62 L738.85 965.62 L738.93 966.61 L739.01 967.61 L739.09 968.61 L739.16 969.61 L739.23 970.6 L739.3 971.6 L739.36 972.6 L739.43 973.6 L739.49 974.6 L739.55 975.6 L739.61 976.59 L739.67 977.59 L739.73 978.59 L739.78 979.59 L739.84 980.59 L739.89 981.59 L739.94 982.59 L739.98 983.59 L740.03 984.59 L740.07 985.59 L740.1 986.59 L740.14 987.59 L740.17 988.59 L740.2 989.59 L740.23 990.59 L740.25 991.59 L740.28 992.59 L740.3 993.59 L740.33 994.59 L740.35 995.59 L740.38 996.59 L740.4 997.59 L740.43 998.59 L740.45 999.59 L740.47 1000.59 L740.5 1001.59 L740.52 1002.59 L740.54 1003.59 L740.56 1004.59 L740.58 1005.59 L740.6 1006.59 L740.62 1007.59 L740.64 1008.59 L740.65 1009.59 L740.67 1010.59 L740.69 1011.59 L740.7 1012.59 L740.71 1013.59 L740.73 1014.59 L740.74 1015.59 L740.75 1016.59 L740.76 1017.59 L740.77 1018.59 L740.78 1019.59 L740.78 1020.6 L740.79 1021.6 L740.79 1022.6 L740.8 1023.6 L740.8 1024.6 L740.8 1025.6 M740.8 1025.6 L741.14 1024.46 L741.59 1023.44 L742.14 1022.58 L742.76 1021.91 L743.45 1021.48 L744.34 1021.2 L745.37 1020.99 L746.42 1020.77 L747.38 1020.47 L748.3 1020.11 L749.2 1019.7 L750.1 1019.26 L750.98 1018.79 L751.86 1018.3 L752.74 1017.79 L753.61 1017.28 L754.48 1016.77 L755.35 1016.26 L756.23 1015.78 L757.1 1015.29 L757.97 1014.8 L758.84 1014.31 L759.71 1013.81 L760.58 1013.31 L761.44 1012.81 L762.31 1012.31 L763.17 1011.8 L764.03 1011.29 L764.89 1010.78 L765.75 1010.26 L766.61 1009.74 L767.46 1009.23 L768.32 1008.71 L769.17 1008.19 L770.03 1007.67 L770.89 1007.15 L771.74 1006.63 L772.6 1006.11 L773.45 1005.59 L774.31 1005.06 L775.16 1004.53 L776 1003.99 L776.84 1003.45 L777.67 1002.9 L778.5 1002.34 L779.32 1001.78 L780.14 1001.2 L780.94 1000.61 L781.74 1000.02 L782.53 999.4 L783.31 998.78 L784.09 998.16 L784.87 997.52 L785.64 996.89 L786.41 996.25 L787.19 995.6 L787.96 994.97 L788.73 994.33 L789.51 993.7 L790.29 993.07 L791.08 992.45 L791.88 991.84 L792.68 991.23 L793.47 990.62 L794.27 990.01 L795.05 989.39 L795.82 988.75 L796.57 988.1 L797.29 987.43 L798.01 986.74 L798.73 986.05 L799.43 985.34 L800.13 984.63 L800.83 983.91 L801.52 983.18 L802.2 982.44 L802.88 981.7 L803.55 980.95 L804.21 980.19 L804.87 979.42 L805.52 978.66 L806.16 977.88 L806.8 977.1 L807.43 976.32 L808.05 975.54 L808.66 974.75 L809.27 973.96 L809.87 973.17 L810.47 972.37 L811.06 971.57 L811.65 970.77 L812.24 969.95 L812.82 969.13 L813.39 968.31 L813.96 967.48 L814.53 966.65 L815.08 965.81 L815.63 964.97 L816.17 964.12 L816.71 963.27 L817.23 962.41 L817.75 961.55 L818.25 960.69 L818.75 959.82 L819.23 958.95 L819.7 958.07 L820.16 957.19 L820.61 956.31 L821.06 955.42 L821.5 954.53 L821.93 953.63 L822.36 952.72 L822.78 951.81 L823.2 950.9 L823.61 949.98 L824.01 949.06 L824.41 948.13 L824.79 947.2 L825.17 946.27 L825.55 945.34 L825.91 944.4 L826.26 943.46 L826.61 942.53 L826.95 941.59 L827.28 940.65 L827.6 939.7 L827.91 938.76 L828.22 937.81 L828.52 936.86 L828.81 935.91 L829.1 934.95 L829.39 933.99 L829.66 933.03 L829.93 932.06 L830.2 931.09 L830.46 930.13 L830.72 929.16 L830.97 928.19 L831.22 927.21 L831.47 926.24 L831.71 925.27 L831.95 924.3 L832.18 923.32 L832.42 922.35 L832.65 921.38 L832.87 920.41 L833.1 919.43 L833.32 918.46 L833.53 917.48 L833.75 916.5 L833.96 915.52 L834.16 914.54 L834.37 913.56 L834.57 912.58 L834.77 911.6 M885.6 909 L885.61 910 L885.61 911 L885.61 912 L885.61 913 L885.62 914 L885.62 915 L885.62 916 L885.62 917 L885.63 918 L885.63 919 L885.63 920 L885.64 921 L885.64 922 L885.64 923 L885.64 924 L885.65 925 L885.65 926 L885.65 927 L885.65 928 L885.66 929 L885.66 930 L885.66 931 L885.66 932 L885.67 933 L885.67 934 L885.67 935 L885.67 936 L885.68 937 L885.68 938 L885.68 939 L885.68 940 L885.69 941 L885.69 942 L885.69 943 L885.69 944 L885.7 945 L885.7 946 M886.39 1001.5 L886.41 1002.5 L886.42 1003.5 L886.43 1004.5 L886.44 1005.5 L886.46 1006.5 L886.47 1007.5 L886.48 1008.5 L886.49 1009.5 L886.51 1010.5 L886.53 1011.5 L886.54 1012.5 L886.56 1013.5 L886.58 1014.5 L886.59 1015.5 L886.61 1016.5 L886.63 1017.5 L886.64 1018.5 L886.66 1019.5 L886.68 1020.5 L886.69 1021.5 L886.71 1022.5 L886.73 1023.5 L886.74 1024.5 L886.75 1024.9 M886.75 1024.9 L887.2 1021.3 L888.05 1020.72 L888.95 1020.32 L889.91 1020.12 L890.91 1019.98 L891.91 1019.82 L892.86 1019.56 L893.8 1019.21 L894.73 1018.8 L895.64 1018.37 L896.53 1017.93 L897.4 1017.44 L898.26 1016.92 L899.1 1016.38 L899.95 1015.83 L900.78 1015.29 L901.62 1014.74 L902.45 1014.18 L903.27 1013.62 L904.09 1013.05 L904.91 1012.47 L905.73 1011.89 L906.54 1011.31 L907.35 1010.72 L908.17 1010.14 L908.98 1009.55 L909.79 1008.97 L910.61 1008.38 L911.42 1007.81 L912.24 1007.23 L913.07 1006.66 L913.9 1006.1 L914.73 1005.54 L915.57 1004.98 L916.4 1004.43 L917.24 1003.87 L918.07 1003.31 L918.9 1002.75 L919.73 1002.18 L920.55 1001.61 L921.36 1001.03 L922.16 1000.44 L922.96 999.83 L923.74 999.21 L924.5 998.58 L925.26 997.93 L926.01 997.27 L926.74 996.59 L927.47 995.9 L928.19 995.2 L928.91 994.5 L929.62 993.79 L930.32 993.08 L931.02 992.36 L931.71 991.64 L932.4 990.91 L933.09 990.18 L933.76 989.43 L934.42 988.68 L935.08 987.92 L935.71 987.16 L936.33 986.38 L936.94 985.58 L937.53 984.78 L938.11 983.96 L938.68 983.14 L939.25 982.31 L939.81 981.48 L940.37 980.65 L940.94 979.83 L941.52 979 L942.09 978.18 L942.66 977.35 L943.23 976.52 L943.8 975.68 L944.36 974.85 L944.9 974.01 L945.44 973.16 L945.95 972.31 L946.46 971.44 L946.94 970.58 L947.4 969.7 L947.84 968.81 L948.26 967.92 L948.68 967.01 L949.08 966.09 L949.47 965.17 L949.84 964.24 L950.22 963.3 L950.58 962.36 L950.93 961.42 L951.28 960.48 L951.62 959.54 L951.96 958.6 L952.3 957.66 L952.64 956.72 L952.98 955.77 L953.31 954.83 L953.64 953.88 L953.97 952.93 L954.29 951.98 L954.61 951.03 L954.93 950.08 L955.24 949.12 L955.54 948.17 L955.83 947.21 L956.12 946.25 L956.4 945.29 L956.66 944.32 L956.92 943.36 L957.17 942.39 L957.4 941.42 L957.62 940.45 L957.84 939.48 L958.06 938.51 L958.26 937.53 L958.47 936.56 L958.67 935.58 L958.86 934.6 L959.05 933.62 L959.24 932.63 L959.42 931.65 L959.6 930.66 L959.78 929.67 L959.95 928.69 L960.12 927.7 L960.28 926.71 L960.44 925.72 L960.6 924.73 L960.76 923.74 L960.91 922.74 L961.06 921.75 L961.21 920.76 L961.36 919.77 L961.5 918.78 L961.65 917.79 L961.79 916.8 L961.93 915.81 L962.06 914.82 M1036.58 1000 L1036.61 1001 L1036.65 1002 L1036.68 1003 L1036.72 1004 L1036.75 1005 L1036.79 1006 L1036.82 1007 L1036.86 1008 L1036.89 1009 L1036.93 1010 L1036.96 1011 L1037 1012 L1037.04 1013 L1037.08 1014 L1037.12 1015 L1037.15 1016 L1037.19 1017 L1037.23 1018 L1037.27 1019 L1037.31 1020 L1037.35 1021 L1037.38 1022 L1037.42 1023 L1037.46 1024 L1037.5 1025 M1036.6 1014 L1037.9 1025 M1037.5 1025 L1038.4 1016.2 L1039.13 1016.91 L1039.91 1017.54 L1040.74 1018.14 L1041.63 1018.74 L1042.54 1019.14 L1043.47 1019.16 L1044.44 1018.88 L1045.41 1018.47 L1046.32 1018.05 L1047.2 1017.6 L1048.05 1017.08 L1048.89 1016.52 L1049.72 1015.92 L1050.53 1015.31 L1051.34 1014.69 L1052.15 1014.09 L1052.95 1013.49 L1053.75 1012.88 L1054.55 1012.26 L1055.33 1011.64 L1056.12 1011.01 L1056.9 1010.37 L1057.67 1009.72 L1058.44 1009.07 L1059.21 1008.41 L1059.96 1007.75 L1060.72 1007.08 L1061.46 1006.41 L1062.21 1005.73 L1062.94 1005.05 L1063.68 1004.37 L1064.41 1003.68 L1065.15 1002.99 L1065.89 1002.3 L1066.62 1001.6 L1067.35 1000.9 L1068.08 1000.19 L1068.8 999.48 L1069.52 998.76 L1070.22 998.03 L1070.92 997.3 L1071.6 996.56 L1072.28 995.81 L1072.93 995.06 L1073.58 994.3 L1074.2 993.53 L1074.81 992.75 L1075.41 991.96 L1075.99 991.15 L1076.57 990.34 L1077.14 989.51 L1077.7 988.68 L1078.25 987.83 L1078.79 986.98 L1079.33 986.12 L1079.85 985.25 L1080.37 984.37 L1080.87 983.49 L1081.37 982.61 L1081.86 981.72 L1082.33 980.83 L1082.8 979.93 L1083.25 979.04 L1083.69 978.14 L1084.12 977.24 L1084.55 976.34 L1084.97 975.43 L1085.38 974.52 L1085.78 973.6 L1086.18 972.67 L1086.58 971.75 L1086.96 970.81 L1087.34 969.88 L1087.71 968.94 L1088.08 967.99 L1088.44 967.05 L1088.79 966.1 L1089.13 965.15 L1089.47 964.2 L1089.79 963.25 L1090.11 962.29 L1090.43 961.34 L1090.73 960.38 L1091.02 959.42 L1091.31 958.47 L1091.6 957.51 L1091.88 956.55 L1092.17 955.58 L1092.44 954.61 L1092.72 953.65 L1092.99 952.68 L1093.25 951.7 L1093.52 950.73 L1093.77 949.75 L1094.03 948.78 L1094.27 947.8 L1094.52 946.82 L1094.75 945.84 L1094.98 944.85 L1095.21 943.87 L1095.43 942.89 L1095.64 941.9 L1095.84 940.92 L1096.04 939.93 M1194.45 988 L1194.46 989 L1194.48 990 L1194.49 991 L1194.51 992 L1194.52 993 L1194.54 994 L1194.55 995 L1194.57 996 L1194.58 997 L1194.6 998 L1194.61 999 L1194.62 1000 L1194.64 1001 L1194.65 1002 L1194.67 1003 L1194.68 1004 L1194.7 1005 L1194.72 1006 L1194.73 1007 L1194.75 1008 L1194.76 1009 L1194.78 1010 L1194.79 1011 L1194.81 1012 L1194.82 1013 L1194.84 1014 L1194.85 1015 L1194.87 1016 L1194.88 1017 L1194.89 1018 L1194.91 1019 L1194.92 1020 L1194.94 1021 L1194.95 1022 L1194.97 1023 L1194.98 1024 L1195 1025 M1195 1025 L1197.3 1006.5 L1199.2 1014.5 M1199.2 1014.5 L1199.33 1015.68 L1199.67 1016.63 L1200.13 1017.34 L1201.02 1017.89 L1201.91 1017.89 L1202.69 1017.24 L1203.45 1016.44 L1204.2 1015.78 L1204.94 1015.11 L1205.67 1014.42 L1206.39 1013.73 L1207.1 1013.02 L1207.81 1012.31 L1208.5 1011.59 L1209.19 1010.86 L1209.87 1010.14 L1210.55 1009.4 L1211.22 1008.66 L1211.88 1007.91 L1212.53 1007.15 L1213.17 1006.38 L1213.82 1005.61 L1214.45 1004.84 L1215.09 1004.06 L1215.71 1003.28 L1216.34 1002.5 L1216.96 1001.72 L1217.59 1000.94 L1218.21 1000.16 L1218.84 999.38 L1219.47 998.59 L1220.09 997.81 L1220.71 997.02 L1221.33 996.23 L1221.94 995.43 L1222.54 994.63 L1223.14 993.83 L1223.72 993.02 L1224.3 992.2 L1224.86 991.38 L1225.4 990.55 L1225.93 989.7 L1226.45 988.85 L1226.97 988 L1227.47 987.13 L1227.97 986.26 L1228.46 985.39 L1228.94 984.51 L1229.41 983.62 L1229.88 982.74 L1230.35 981.85 L1230.81 980.96 L1231.26 980.07 L1231.72 979.18 L1232.18 978.29 L1232.64 977.4 L1233.09 976.5 L1233.54 975.6 L1233.98 974.7 L1234.41 973.79 L1234.83 972.88 L1235.23 971.97 L1235.6 971.04 L1235.96 970.12 L1236.29 969.18 L1236.62 968.24 L1236.94 967.29 L1237.26 966.34 L1237.56 965.38 L1237.85 964.42 L1238.13 963.46 L1238.4 962.49 L1238.66 961.52 L1238.91 960.55 L1239.15 959.58 L1239.37 958.6 L1239.58 957.63 L1239.78 956.66 L1239.98 955.68 L1240.17 954.7 L1240.35 953.72 L1240.53 952.74 L1240.71 951.75 L1240.88 950.77 L1241.04 949.78 L1241.2 948.79 L1241.36 947.8 M1358.46 983 L1358.48 984 L1358.5 985 L1358.52 986 L1358.54 987 L1358.56 988 L1358.58 989 L1358.6 990 L1358.62 991 L1358.65 992 L1358.67 993 L1358.69 994 L1358.71 995 L1358.73 996 L1358.75 997 L1358.77 998 L1358.79 999 L1358.81 1000 L1358.83 1001 L1358.85 1002 L1358.87 1003 L1358.89 1004 L1358.91 1005 L1358.93 1006 L1358.95 1007 L1358.97 1008 L1358.99 1009 L1359.01 1010 L1359.03 1011 L1359.05 1012 L1359.08 1013 L1359.1 1014 L1359.12 1015 L1359.14 1016 L1359.16 1017 L1359.18 1018 L1359.2 1019 L1359.22 1020 L1359.24 1021 L1359.26 1022 L1359.28 1023 L1359.3 1024 M1360.6 983.5 L1361 1022 M1362.4 984.5 M1530.11 988 L1530.13 989 L1530.14 990 L1530.16 991 L1530.17 992 L1530.19 993 L1530.2 994 L1530.21 995 L1530.23 996 L1530.24 997 L1530.26 998 L1530.27 999 L1530.29 1000 L1530.3 1001 L1530.31 1002 L1530.33 1003 L1530.34 1004 L1530.36 1005 L1530.37 1006 L1530.39 1007 L1530.4 1008 L1530.41 1009 L1530.43 1010 L1530.44 1011 L1530.46 1012 L1530.47 1013 L1530.49 1014 L1530.5 1015 L1530.51 1016 L1530.53 1017 L1530.54 1018 L1530.56 1019 L1530.57 1020 L1530.59 1021 L1530.6 1022 M1532.1 992 L1532.1 993 L1532.1 994 L1532.1 995 L1532.1 996 L1532.1 997 L1532.1 998 L1532.1 999 L1532.1 1000 L1532.08 1001 L1532.05 1002 L1532.03 1003 L1532.01 1004 L1531.98 1005 L1531.96 1006 L1531.94 1007 L1531.91 1008 L1531.89 1009 L1531.87 1010 L1531.84 1011 L1531.82 1012 L1531.8 1013 L1531.77 1014 L1531.75 1015 L1531.73 1016 L1531.7 1017 L1531.68 1018 L1531.66 1019 L1531.63 1020 L1531.61 1021 L1531.6 1021.5 M1535.6 1001 L1535.63 1002.02 L1535.72 1003.03 L1535.85 1004.02 L1536.02 1005 L1536.2 1005.98 L1536.43 1007.11 L1536.75 1008.33 L1537.15 1009.25 L1537.63 1009.48 L1538.33 1009.01 L1539.16 1008.19 L1539.95 1007.35 L1540.62 1006.62 L1541.27 1005.86 L1541.9 1005.07 L1542.5 1004.25 L1543.08 1003.43 L1543.63 1002.59 L1544.15 1001.75 L1544.66 1000.89 L1545.14 1000.01 L1545.6 999.13 M1706.26 985 L1706.29 986 L1706.33 987 L1706.36 988 L1706.39 989 L1706.42 990 L1706.46 991 L1706.49 992 L1706.52 993 L1706.56 994 L1706.59 995 L1706.62 996 L1706.65 997 L1706.68 998 L1706.72 999 L1706.75 1000 L1706.78 1001 L1706.82 1002 L1706.85 1003 L1706.88 1004 L1706.91 1005 L1706.94 1006 L1706.98 1007 L1707.01 1008 L1707.04 1009 L1707.08 1010 L1707.11 1011 L1707.14 1012 L1707.17 1013 L1707.21 1014 L1707.24 1015 L1707.27 1016 L1707.3 1017 L1707.34 1018 L1707.37 1019 L1707.4 1020 M1707.8 1000 L1707.79 1001 L1707.78 1002 L1707.77 1003 L1707.76 1004 L1707.74 1005 L1707.73 1006 L1707.72 1007 L1707.71 1008 L1707.7 1009 L1707.69 1010 L1707.68 1011 L1707.67 1012 L1707.66 1013 L1707.65 1014 L1707.64 1015 L1707.63 1016 L1707.62 1017 L1707.61 1018 L1707.6 1019 M1713.2 988 L1713.23 989.06 L1713.32 990.09 L1713.46 991.11 L1713.64 992.1 L1713.85 993.08 L1714.08 994.04 L1714.35 995.04 L1714.73 996.22 L1715.22 997.3 L1715.78 997.94 L1716.48 997.84 L1717.41 997.19 L1718.14 996.43 L1718.67 995.61 L1719.12 994.68 L1719.52 993.7 L1719.9 992.75 L1720.25 991.81 L1720.59 990.85 L1720.91 989.89 L1721.21 988.91 L1721.5 987.93 L1721.76 986.95 L1722.01 985.97 L1722.24 984.99 L1722.46 984 L1722.67 983 L1722.86 982.01 L1723.04 981.01 L1723.2 980"/>
<path stroke-width="4.86" stroke-linecap="round" d="M834.77 911.6h0 M835.09 909.93h0 M835.42 908.21h0 M835.75 906.42h0 M836.08 904.57h0 M836.41 902.65h0 M836.74 900.67h0 M837.08 898.62h0 M837.42 896.5h0 M837.75 894.3h0 M838.09 892.02h0 M838.42 889.67h0 M838.73 887.23h0 M839.03 884.71h0 M839.33 882.1h0 M839.61 879.4h0 M839.89 876.6h0 M840.15 873.7h0 M840.4 870.71h0 M848.4 595.25h0 M848.4 666.25h0 M848.25 686.5h0 M847.97 699.6h0 M847.73 710.5h0 M847.49 721.5h0 M847.2 731.5h0 M846.94 740.4h0 M846.58 752.5h0 M846.09 766.5h0 M845.6 780.5h0 M845.18 789.4h0 M844.89 795.5h0 M844.61 801.5h0 M844.39 806.25h0 M844.12 811.25h0 M843.88 815.6h0 M843.67 819.4h0 M843.51 822.5h0 M843.29 826.5h0 M843.04 831.25h0 M842.73 837.5h0 M842.43 843.5h0 M842.23 847.5h0 M842.05 850.6h0 M841.54 856.25h0 M841.25 859.5h0 M841.01 862.5h0 M840.8 865.3h0 M848.7 471.5h0 M849.4 400.4h0 M849.5 308.5h0 M850.4 186.5h0 M882.5 431.25h0 M882.5 603.4h0 M883.5 680.4h0 M883.5 728.5h0 M883.75 762.5h0 M883.93 787.5h0 M884.08 808.5h0 M884.19 824.4h0 M884.29 837.5h0 M884.37 848.5h0 M884.43 857.5h0 M884.5 866.5h0 M884.66 872.5h0 M884.83 878.75h0 M885 885h0 M885.15 890.6h0 M885.3 896.25h0 M885.43 901.25h0 M885.53 905h0 M885.76 950.5h0 M885.83 956h0 M885.89 961.5h0 M885.97 967.5h0 M886.04 973.5h0 M886.1 978h0 M886.15 981.75h0 M886.19 985.5h0 M886.24 989.25h0 M886.29 993h0 M886.33 996.5h0 M886.37 999.5h0 M962.06 914.82h0 M962.29 913.13h0 M962.53 911.38h0 M962.77 909.56h0 M963.01 907.66h0 M963.25 905.69h0 M963.5 903.63h0 M963.74 901.5h0 M963.99 899.28h0 M964.23 896.96h0 M964.47 894.55h0 M964.71 892.05h0 M964.94 889.44h0 M965.16 886.73h0 M965.39 883.91h0 M965.61 880.98h0 M965.83 877.92h0 M966.03 874.75h0 M966.22 871.44h0 M972.25 231.5h0 M971.5 454.6h0 M971.3 573.5h0 M971.4 651.5h0 M970.5 712.5h0 M970.11 740.4h0 M969.78 757.5h0 M969.49 772.5h0 M969.11 786.25h0 M968.81 797.5h0 M968.57 806.25h0 M968.35 814.4h0 M968.1 823.5h0 M967.86 831.25h0 M967.56 841.25h0 M967.25 851.5h0 M967.04 858.5h0 M966.83 862.5h0 M966.54 866.5h0 M1036.45 636.2h0 M1036.39 886.5h0 M1036.4 928.5h0 M1036.4 948.3h0 M1036.4 960.45h0 M1036.4 968.6h0 M1036.4 973.4h0 M1036.4 978h0 M1036.4 982h0 M1036.4 986h0 M1036.4 989.3h0 M1036.4 992.7h0 M1036.41 995.3h0 M1036.5 997.8h0 M1096.04 939.93h0 M1096.36 938.26h0 M1096.67 936.49h0 M1096.97 934.62h0 M1097.28 932.65h0 M1097.58 930.56h0 M1097.89 928.35h0 M1098.2 926.02h0 M1098.51 923.55h0 M1098.81 920.95h0 M1099.12 918.19h0 M1099.43 915.29h0 M1099.74 912.22h0 M1100.06 908.97h0 M1100.38 905.55h0 M1100.7 901.93h0 M1101.02 898.11h0 M1101.32 894.08h0 M1106.35 518.3h0 M1105.45 629.3h0 M1105.45 691.45h0 M1105.3 733.45h0 M1104.6 764.5h0 M1104.16 790.45h0 M1103.87 808.3h0 M1103.65 822.5h0 M1103.46 834.5h0 M1103.31 844.45h0 M1103.08 853.5h0 M1102.86 861.75h0 M1102.67 869.25h0 M1102.51 875.25h0 M1102.19 881.25h0 M1101.87 886h0 M1194.25 832.3h0 M1194.4 902.25h0 M1194.4 934.5h0 M1194.4 951.45h0 M1194.4 962.5h0 M1194.4 970.4h0 M1194.4 976h0 M1194.4 981.3h0 M1194.41 985.5h0 M1241.36 947.8h0 M1241.62 946.12h0 M1241.88 944.33h0 M1242.15 942.43h0 M1242.43 940.4h0 M1242.71 938.25h0 M1243.01 935.95h0 M1243.31 933.51h0 M1243.62 930.91h0 M1243.94 928.14h0 M1244.26 925.2h0 M1244.57 922.07h0 M1244.89 918.73h0 M1245.19 915.18h0 M1250.35 527.3h0 M1249.45 676.45h0 M1249.45 743.5h0 M1249.4 782.5h0 M1248.45 814.45h0 M1248.36 834.55h0 M1248.29 849.25h0 M1247.85 862.5h0 M1247.49 872.25h0 M1247.05 881.25h0 M1246.62 890.25h0 M1246.22 898.5h0 M1245.9 904.5h0 M1245.6 909h0 M1245.37 912.5h0 M1358.5 860.55h0 M1358.45 917.5h0 M1358.43 942.5h0 M1358.42 956.5h0 M1358.41 965.3h0 M1358.41 972.5h0 M1358.4 978.3h0 M1362.4 984.5h0 M1362.41 986.2h0 M1362.45 987.92h0 M1362.49 989.67h0 M1362.56 991.44h0 M1362.64 993.23h0 M1362.73 995.05h0 M1362.82 996.9h0 M1362.93 998.77h0 M1363.04 1000.66h0 M1363.16 1002.58h0 M1363.32 1004.53h0 M1363.51 1006.49h0 M1363.76 1008.48h0 M1364.09 1010.49h0 M1364.58 1012.49h0 M1365.36 1014.42h0 M1367.06 1014.4h0 M1368.61 1012.91h0 M1370.13 1011.35h0 M1371.61 1009.71h0 M1373.02 1007.97h0 M1374.37 1006.15h0 M1375.68 1004.26h0 M1376.95 1002.3h0 M1378.21 1000.3h0 M1379.46 998.25h0 M1380.71 996.17h0 M1381.95 994.03h0 M1383.12 991.83h0 M1384.2 989.54h0 M1385.18 987.16h0 M1386.09 984.72h0 M1386.96 982.23h0 M1387.82 979.69h0 M1388.7 977.13h0 M1389.59 974.52h0 M1390.47 971.87h0 M1391.34 969.18h0 M1392.17 966.44h0 M1392.96 963.64h0 M1393.7 960.79h0 M1403.35 601.45h0 M1402.45 739.45h0 M1402.45 800.55h0 M1401.95 835.5h0 M1401.6 859.5h0 M1400.98 875.55h0 M1400.59 889.5h0 M1400.28 900.45h0 M1399.72 911.55h0 M1399.2 918.5h0 M1398.66 925.5h0 M1398.26 930.5h0 M1397.78 936.5h0 M1397.5 940h0 M1396.76 944.5h0 M1396.1 948.5h0 M1395.53 952h0 M1394.88 955.5h0 M1394.27 958.3h0 M1530.3 834.3h0 M1530 903.5h0 M1530 932.5h0 M1530 949.5h0 M1530 960.5h0 M1530 969.5h0 M1530 975.5h0 M1530.01 981h0 M1530.07 985h0 M1533.8 875.3h0 M1534.04 929.5h0 M1534.68 953.5h0 M1535.2 968.3h0 M1535.2 978.5h0 M1535.19 985.3h0 M1535.08 990.5h0 M1535.13 995.5h0 M1535.47 999.5h0 M1545.6 999.13h0 M1546.36 997.6h0 M1547.16 995.88h0 M1548.03 993.94h0 M1548.95 991.75h0 M1549.9 989.28h0 M1532.5 839.3h0 M1563.55 643.45h0 M1562.6 790.5h0 M1562.3 847.5h0 M1561.5 879.5h0 M1561.1 900.5h0 M1560.3 914.5h0 M1559.7 926.5h0 M1559.18 935.5h0 M1558.31 944.5h0 M1557.44 951.5h0 M1556.56 958.5h0 M1555.81 964.5h0 M1555 969.5h0 M1553.9 975h0 M1552.94 979h0 M1551.83 983h0 M1550.83 986.5h0 M1706.5 722.5h0 M1706.14 881.5h0 M1706.12 926.5h0 M1706.11 949.5h0 M1706.11 963.5h0 M1706.1 972.5h0 M1706.1 978.5h0 M1706.2 983h0 M1708.1 831.5h0 M1708.6 983h0 M1708.7 996h0 M1709.3 1004.5h0 M1709.5 1009.5h0 M1709.5 1013.5h0 M1711.3 749.3h0 M1711.3 908.5h0 M1711.63 943.5h0 M1711.8 961.5h0 M1712.04 972.5h0 M1712.2 979.5h0 M1712.73 984h0 M1730.5 450.5h0 M1729.2 835.5h0 M1728.5 889.5h0 M1728.12 918.5h0 M1727.5 935.5h0 M1726.9 948.5h0 M1726.4 957.5h0 M1725.5 964.5h0 M1724.5 971h0 M1723.85 975.5h0"/>
</g>
<rect x="250.5" y="144.5" width="1550.0" height="924.0" fill="none" stroke="#000" stroke-width="1.11"/>
<path d="M322 1068V1085 M543 1068V1085 M763 1068V1085 M984 1068V1085 M1204 1068V1085 M1425 1068V1085 M1645 1068V1085 M251 1039H233 M251 933H233 M251 826H233 M251 719H233 M251 613H233 M251 506H233 M251 399H233 M251 293H233 M251 186H233 M278 1068V1078.9 M366 1068V1078.9 M410 1068V1078.9 M455 1068V1078.9 M499 1068V1078.9 M587 1068V1078.9 M631 1068V1078.9 M675 1068V1078.9 M719 1068V1078.9 M807 1068V1078.9 M851 1068V1078.9 M896 1068V1078.9 M940 1068V1078.9 M1028 1068V1078.9 M1072 1068V1078.9 M1116 1068V1078.9 M1160 1068V1078.9 M1248 1068V1078.9 M1293 1068V1078.9 M1337 1068V1078.9 M1381 1068V1078.9 M1469 1068V1078.9 M1513 1068V1078.9 M1557 1068V1078.9 M1601 1068V1078.9 M1689 1068V1078.9 M1734 1068V1078.9 M1778 1068V1078.9 M251 1061H239.6 M251 1018H239.6 M251 997H239.6 M251 975H239.6 M251 954H239.6 M251 911H239.6 M251 890H239.6 M251 869H239.6 M251 847H239.6 M251 805H239.6 M251 783H239.6 M251 762H239.6 M251 741H239.6 M251 698H239.6 M251 677H239.6 M251 655H239.6 M251 634H239.6 M251 591H239.6 M251 570H239.6 M251 549H239.6 M251 527H239.6 M251 485H239.6 M251 463H239.6 M251 442H239.6 M251 421H239.6 M251 378H239.6 M251 357H239.6 M251 335H239.6 M251 314H239.6 M251 271H239.6 M251 250H239.6 M251 229H239.6 M251 208H239.6 M251 165H239.6" stroke="#000" stroke-width="6" fill="none"/>
<g font-family="'DejaVu Sans','Liberation Sans',sans-serif" font-size="36.11" fill="#000">
<text x="322.13" y="1117.3" text-anchor="middle">0.03</text>
<text x="542.65" y="1117.3" text-anchor="middle">0.04</text>
<text x="763.17" y="1117.3" text-anchor="middle">0.05</text>
<text x="983.69" y="1117.3" text-anchor="middle">0.06</text>
<text x="1204.21" y="1117.3" text-anchor="middle">0.07</text>
<text x="1424.73" y="1117.3" text-anchor="middle">0.08</text>
<text x="1645.25" y="1117.3" text-anchor="middle">0.09</text>
<text x="228.3" y="1053.6" text-anchor="end">0</text>
<text x="228.3" y="946.96" text-anchor="end">10000</text>
<text x="228.3" y="840.32" text-anchor="end">20000</text>
<text x="228.3" y="733.68" text-anchor="end">30000</text>
<text x="228.3" y="627.04" text-anchor="end">40000</text>
<text x="228.3" y="520.4" text-anchor="end">50000</text>
<text x="228.3" y="413.76" text-anchor="end">60000</text>
<text x="228.3" y="307.12" text-anchor="end">70000</text>
<text x="228.3" y="200.48" text-anchor="end">80000</text>
</g>
<text x="1799.5" y="1139.2" text-anchor="end" font-family="'DejaVu Sans','Liberation Sans',sans-serif" font-size="13.89" fill="#000">+5.764e2</text>
<text x="1025.3" y="1170.6" text-anchor="middle" font-family="'DejaVu Sans','Liberation Sans',sans-serif" font-size="55.56" fill="#000">Age (Myr)</text>
<text transform="translate(95.3 606.3) rotate(-90)" text-anchor="middle" font-family="'DejaVu Sans','Liberation Sans',sans-serif" font-size="55.56" fill="#000">FM period (days)</text>
<rect x="263.7" y="157.5" width="380.8" height="109" rx="3.5" ry="3.5" fill="#fff" fill-opacity="0.8" stroke="#ccc" stroke-opacity="0.8" stroke-width="1.39"/>
<path d="M272.5 177.2H323.5" stroke="#000" stroke-width="2.08" fill="none"/>
<circle cx="298.2" cy="177.2" r="2.43" fill="#000"/>
<circle cx="298.5" cy="231.4" r="6.7" fill="#ffff00" fill-opacity="0.22" stroke="#ffff00" stroke-opacity="0.22" stroke-width="2.08"/>
<g font-family="'DejaVu Sans','Liberation Sans',sans-serif" font-size="25" fill="#000">
<text x="342.9" y="186">m2.20_z0.0900_y0.438</text>
<text x="342.3" y="223">intersection w/ P,L,T,R</text>
<text x="342.3" y="251">loosely defined</text>
</g>
</svg>
</body></html>
